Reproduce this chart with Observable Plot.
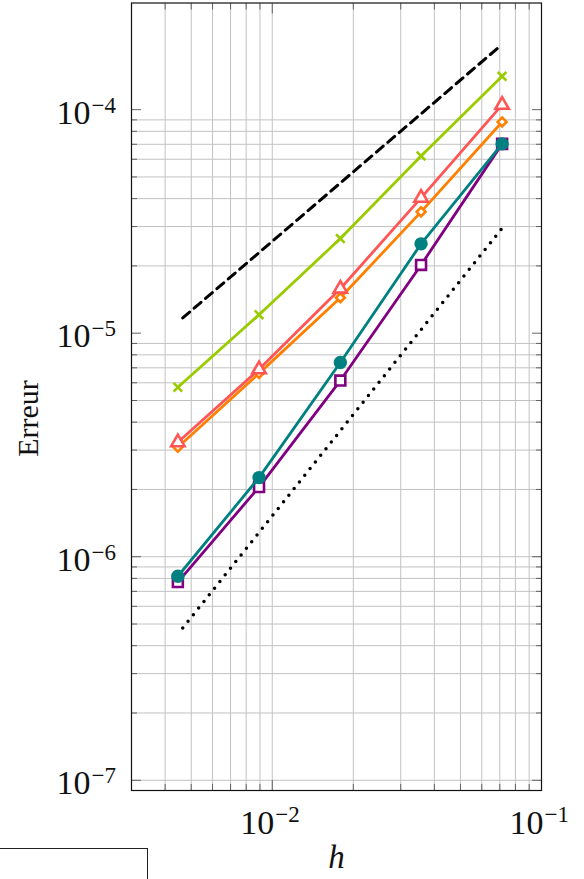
<!DOCTYPE html>
<html><head><meta charset="utf-8">
<script src="https://cdn.jsdelivr.net/npm/d3@7"></script>
<script src="https://cdn.jsdelivr.net/npm/@observablehq/plot@0.6"></script>
<style>
body{margin:0;background:#fff}
#wrap{position:relative;width:584px;height:879px;overflow:hidden;background:#fff}
#legend{position:absolute;left:-2px;top:848px;width:148px;height:80px;border:1.3px solid #222;background:#fff}
</style>
</head><body><div id="wrap"></div>
<script>
// mesh sizes h
const hValues = [0.0714, 0.0357, 0.0179, 0.00893, 0.00446];
// errors per series
const errGreen  = [1.41e-4, 6.21e-5, 2.65e-5, 1.21e-5, 5.73e-6];
const errRed    = [1.05e-4, 4.03e-5, 1.58e-5, 6.89e-6, 3.25e-6];
const errOrange = [8.81e-5, 3.49e-5, 1.44e-5, 6.61e-6, 3.09e-6];
const errTeal   = [7.03e-5, 2.51e-5, 7.40e-6, 2.26e-6, 8.18e-7];
const errPurple = [7.03e-5, 2.02e-5, 6.14e-6, 2.05e-6, 7.70e-7];
// reference slopes
const refH = [0.00465, 0.0711];
const refOrder1 = [1.17e-5, 1.95e-4];
const refOrder15 = [4.8e-7, 2.93e-5];
// ticks
const xMajor = [1e-2, 1e-1];
const xMajorExp = ["\u22122", "\u22121"];
const xMinor = [0.003,0.004,0.005,0.006,0.007,0.008,0.009,0.02,0.03,0.04,0.05,0.06,0.07,0.08,0.09];
const yMajor = [1e-7, 1e-6, 1e-5, 1e-4];
const yMajorExp = ["\u22127", "\u22126", "\u22125", "\u22124"];
const yMinor = [2e-7,3e-7,4e-7,5e-7,6e-7,7e-7,8e-7,9e-7,
                2e-6,3e-6,4e-6,5e-6,6e-6,7e-6,8e-6,9e-6,
                2e-5,3e-5,4e-5,5e-5,6e-5,7e-5,8e-5,9e-5];
const yGridMajor = [1e-7, 1e-6];
const xGridMajor = [1e-2];

const rows = vals => hValues.map((h, i) => ({h, err: vals[i]}));
const refRows = vals => refH.map((h, i) => ({h, err: vals[i]}));

const styles = [
  {vals: errPurple, color: "#800080", symbol: "square",   r: 5.6, fill: "white"},
  {vals: errTeal,   color: "#008080", symbol: "circle",   r: 5.4, fill: "#008080"},
  {vals: errOrange, color: "#ff8000", symbol: "diamond2", r: 4.0, fill: "white"},
  {vals: errRed,    color: "#ff5555", symbol: "triangle", r: 5.0, fill: "white"},
  {vals: errGreen,  color: "#99cc00", symbol: "times",    r: 4.0, fill: "none"}
];

const tickOpts = {stroke: "#555", strokeWidth: 0.9, tickFormat: () => "", label: null};
const gridOpts = {stroke: "#c2c2c2", strokeOpacity: 1, strokeWidth: 1};

const seriesMarks = styles.flatMap(s => [
  Plot.line(rows(s.vals), {x: "h", y: "err", stroke: s.color, strokeWidth: 2.8}),
  Plot.dot(rows(s.vals), {x: "h", y: "err", symbol: s.symbol, r: s.r, stroke: s.color, fill: s.fill, strokeWidth: 2.6})
]);

const chart = Plot.plot({
  width: 584,
  height: 879,
  marginLeft: 131,
  marginRight: 43,
  marginTop: 2.5,
  marginBottom: 89,
  style: {fontFamily: "Liberation Serif", background: "transparent", color: "#111"},
  x: {type: "log", domain: [0.003, 0.1]},
  y: {type: "log", domain: [9e-8, 3e-4]},
  marks: [
    Plot.gridX(xMinor.concat(xGridMajor), gridOpts),
    Plot.gridY(yMinor.concat(yGridMajor), gridOpts),
    Plot.axisX(xMinor, {anchor: "bottom", tickSize: 6, dy: -6, ...tickOpts}),
    Plot.axisX(xMinor, {anchor: "top", tickSize: 6, dy: 6, ...tickOpts}),
    Plot.axisX(xMajor, {anchor: "bottom", tickSize: 10, dy: -10, ...tickOpts}),
    Plot.axisX(xMajor, {anchor: "top", tickSize: 10, dy: 10, ...tickOpts}),
    Plot.axisY(yMinor, {anchor: "left", tickSize: 6, dx: 6, ...tickOpts}),
    Plot.axisY(yMinor, {anchor: "right", tickSize: 6, dx: -6, ...tickOpts}),
    Plot.axisY(yMajor, {anchor: "left", tickSize: 10, dx: 10, ...tickOpts}),
    Plot.axisY(yMajor, {anchor: "right", tickSize: 10, dx: -10, ...tickOpts}),
    Plot.line(refRows(refOrder1), {x: "h", y: "err", stroke: "black", strokeWidth: 3, strokeDasharray: "9,6"}),
    Plot.line(refRows(refOrder15), {x: "h", y: "err", stroke: "black", strokeWidth: 3.5, strokeDasharray: "0,8.5", strokeLinecap: "round"}),
    ...seriesMarks,
    Plot.text(yMajor, {y: d => d, frameAnchor: "left", text: () => "10", textAnchor: "end", lineAnchor: "bottom", dx: -41, dy: 14, fontSize: 34, fill: "#111"}),
    Plot.text(yMajor, {y: d => d, frameAnchor: "left", text: (d, i) => yMajorExp[i], textAnchor: "start", lineAnchor: "bottom", dx: -40, dy: 3, fontSize: 23, fill: "#111"}),
    Plot.text(xMajor, {x: d => d, frameAnchor: "bottom", text: () => "10", textAnchor: "end", lineAnchor: "bottom", dx: 2, dy: 43, fontSize: 34, fill: "#111"}),
    Plot.text(xMajor, {x: d => d, frameAnchor: "bottom", text: (d, i) => xMajorExp[i], textAnchor: "start", lineAnchor: "bottom", dx: 3, dy: 31, fontSize: 23, fill: "#111"}),
    Plot.text(["Erreur"], {frameAnchor: "left", rotate: -90, dx: -103, dy: 60, fontSize: 30, lineAnchor: "middle", fill: "#111"}),
    Plot.text(["h"], {frameAnchor: "bottom", dy: 67, fontSize: 33, fontStyle: "italic", lineAnchor: "middle", fill: "#111"}),
    Plot.frame({stroke: "#111", strokeWidth: 1.2})
  ]
});
const wrap = document.getElementById("wrap");
wrap.appendChild(chart);
const legend = document.createElement("div");
legend.id = "legend";
wrap.appendChild(legend);
</script>
</body></html>
